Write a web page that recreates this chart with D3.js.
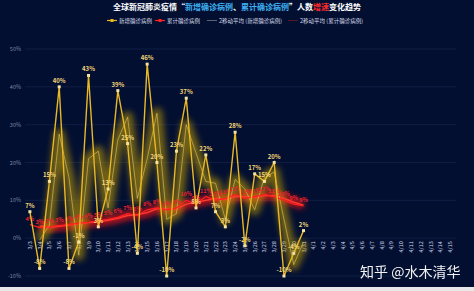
<!DOCTYPE html>
<html>
<head>
<meta charset="utf-8">
<script src="https://cdn.jsdelivr.net/npm/d3@7"></script>
<style>
  html, body { margin: 0; padding: 0; background: #e8e8e8; }
  svg { display: block; font-family: "Noto Sans CJK SC", "Noto Sans", sans-serif; }
</style>
</head>
<body>
<script>
// 日期（横轴）
const dates = ["3/3","3/4","3/5","3/6","3/7","3/8","3/9","3/10","3/11","3/12","3/13","3/14","3/15","3/16",
  "3/17","3/18","3/19","3/20","3/21","3/22","3/23","3/24","3/25","3/26","3/27","3/28","3/29","3/30","3/31",
  "4/1","4/2","4/3","4/4","4/5","4/6","4/7","4/8","4/9","4/10","4/11","4/12","4/13","4/14","4/15"];

// 新增确诊病例增速 (%)
const newCases = [7, -8, 15, 40, -8, -1, 43, 3, 13, 39, 25, -4, 46, 20,
  -10, 23, 37, 8, 22, 7, 3, 28, -2, 17, 15, 20, -10, -4, 2];

// 累计确诊病例增速 (%)
const totalCases = [3.6, 2.8, 3.0, 3.3, 3.6, 4.0, 4.2, 4.5, 5.0, 5.5, 6.5, 6.0, 7.5, 8.0,
  7.5, 8.0, 10.0, 9.0, 11.0, 10.0, 10.5, 11.5, 10.5, 11.0, 11.5, 11.0, 10.0, 9.0, 8.5];

const yTicks = [-10, 0, 10, 20, 30, 40, 50];

const width = 474, height = 291;

// 2移动平均
function movingAvg(arr) {
  return arr.map((v, i) => i === 0 ? null : (v + arr[i - 1]) / 2);
}

const svg = d3.select("body").append("svg")
    .attr("width", width)
    .attr("height", height);

svg.append("rect")
    .attr("width", width).attr("height", 287)
    .attr("fill", "#030f31");

const defs = svg.append("defs");
defs.append("filter").attr("id", "glow")
    .attr("x", "-20%").attr("y", "-20%").attr("width", "140%").attr("height", "140%")
  .append("feGaussianBlur").attr("stdDeviation", 3.2);

const x = d3.scaleBand()
    .domain(dates)
    .range([25, 455]);

const y = d3.scaleLinear()
    .domain([-10, 50])
    .range([276, 49]);

const cx = d => x(d) + x.bandwidth() / 2;

// 网格线
svg.append("g").selectAll("line")
    .data(yTicks)
    .join("line")
    .attr("x1", 25).attr("x2", 456)
    .attr("y1", d => y(d)).attr("y2", d => y(d))
    .attr("stroke", "#13214a")
    .attr("stroke-width", 0.8);

// 纵轴标签
svg.append("g").selectAll("text")
    .data(yTicks)
    .join("text")
    .attr("x", 21)
    .attr("y", d => y(d) + 2)
    .attr("text-anchor", "end")
    .attr("font-size", 5.5)
    .attr("fill", "#7d89a8")
    .text(d => d + "%");

// 横轴标签（竖排）
svg.append("g").selectAll("text")
    .data(dates)
    .join("text")
    .attr("transform", d => `translate(${cx(d) + 2},${y(0) + 3}) rotate(-90)`)
    .attr("text-anchor", "end")
    .attr("font-size", 5.5)
    .attr("fill", "#d6dcee")
    .text(d => d);

const line = d3.line()
    .defined(d => d.v !== null)
    .x(d => cx(d.date))
    .y(d => y(d.v));

const toPts = arr => arr.map((v, i) => ({ date: dates[i], v: v }));

const newPts = toPts(newCases);
const totalPts = toPts(totalCases);
const newMA = toPts(movingAvg(newCases));
const totalMA = toPts(movingAvg(totalCases));

// 移动平均光晕
svg.append("path")
    .datum(totalMA)
    .attr("d", line)
    .attr("fill", "none")
    .attr("stroke", "#ff1414")
    .attr("stroke-width", 8)
    .attr("opacity", 0.8)
    .attr("filter", "url(#glow)");

svg.append("path")
    .datum(newMA)
    .attr("d", line)
    .attr("fill", "none")
    .attr("stroke", "#c9a200")
    .attr("stroke-width", 11)
    .attr("stroke-linejoin", "round")
    .attr("opacity", 0.55)
    .attr("filter", "url(#glow)");

svg.append("path")
    .datum(totalMA)
    .attr("d", line)
    .attr("fill", "none")
    .attr("stroke", "#ff3b30")
    .attr("stroke-width", 1.4);

svg.append("path")
    .datum(newMA)
    .attr("d", line)
    .attr("fill", "none")
    .attr("stroke", "#e6cf6a")
    .attr("stroke-width", 0.8)
    .attr("opacity", 0.7);

// 累计确诊病例
svg.append("path")
    .datum(totalPts)
    .attr("d", line)
    .attr("fill", "none")
    .attr("stroke", "#ff2020")
    .attr("stroke-width", 1.2);

svg.append("g").selectAll("text")
    .data(totalPts)
    .join("text")
    .attr("x", d => cx(d.date))
    .attr("y", d => y(d.v) - 4)
    .attr("text-anchor", "middle")
    .attr("font-size", 5.5)
    .attr("font-weight", "bold")
    .attr("fill", "#e8242c")
    .text(d => Math.round(d.v) + "%");

// 新增确诊病例
svg.append("path")
    .datum(newPts)
    .attr("d", line)
    .attr("fill", "none")
    .attr("stroke", "#e9b925")
    .attr("stroke-width", 1.4);

svg.append("g").selectAll("rect")
    .data(newPts)
    .join("rect")
    .attr("x", d => cx(d.date) - 1.5)
    .attr("y", d => y(d.v) - 1.5)
    .attr("width", 3).attr("height", 3)
    .attr("fill", "#f4e3a0");

svg.append("g").selectAll("text")
    .data(newPts)
    .join("text")
    .attr("x", d => cx(d.date))
    .attr("y", d => y(d.v) - 4)
    .attr("text-anchor", "middle")
    .attr("font-size", 6)
    .attr("font-weight", "bold")
    .attr("fill", "#f2d679")
    .text(d => d.v + "%");

// 标题
const title = svg.append("text")
    .attr("x", 237).attr("y", 10)
    .attr("text-anchor", "middle")
    .attr("font-size", 8)
    .attr("font-weight", "bold")
    .attr("fill", "#ffffff");
[["全球新冠肺炎疫情“", "#ffffff"], ["新增确诊病例", "#3fb0f0"], ["、", "#ffffff"],
 ["累计确诊病例", "#3fb0f0"], ["”人数", "#ffffff"], ["增速", "#ff2a2a"], ["变化趋势", "#ffffff"]]
  .forEach(([t, c]) => title.append("tspan").attr("fill", c).text(t));

// 图例
const legendItems = [
  { label: "新增确诊病例", color: "#e9b925", marker: true, x: 107 },
  { label: "累计确诊病例", color: "#ff2020", marker: true, x: 155 },
  { label: "2移动平均 (新增确诊病例)", color: "#9a9a9a", marker: false, x: 207 },
  { label: "2移动平均 (累计确诊病例)", color: "#8a2020", marker: false, x: 288 }
];
const lg = svg.append("g").selectAll("g")
    .data(legendItems)
    .join("g")
    .attr("transform", d => `translate(${d.x},20.5)`);
lg.append("line")
    .attr("x1", 0).attr("x2", 10)
    .attr("stroke", d => d.color)
    .attr("stroke-width", d => d.marker ? 1.2 : 0.6);
lg.filter(d => d.marker).append("rect")
    .attr("x", 3.5).attr("y", -1.5).attr("width", 3).attr("height", 3)
    .attr("fill", d => d.color);
lg.append("text")
    .attr("x", 12).attr("y", 2)
    .attr("font-size", 5.5)
    .attr("fill", "#d8dcea")
    .text(d => d.label);

// 水印
svg.append("text")
    .attr("x", 360).attr("y", 277)
    .attr("font-size", 14)
    .attr("fill", "#ffffff")
    .attr("opacity", 0.95)
    .text("知乎 @水木清华");
</script>
</body>
</html>
